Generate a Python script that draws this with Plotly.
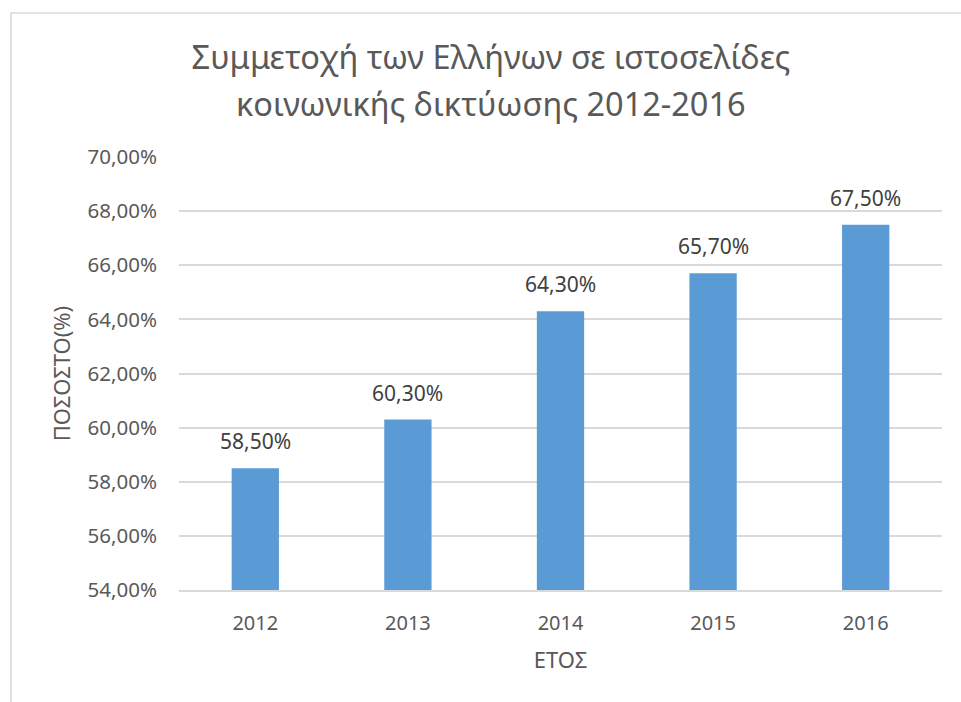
import plotly.graph_objects as go

years = ["2012", "2013", "2014", "2015", "2016"]
values = [0.585, 0.603, 0.643, 0.657, 0.675]
title_line1 = "Συμμετοχή των Ελλήνων σε ιστοσελίδες"
title_line2 = "κοινωνικής δικτύωσης 2012-2016"
x_title = "ΕΤΟΣ"
y_title = "ΠΟΣΟΣΤΟ(%)"

FONT = "Noto Sans"
TXT = "#595959"
W, H = 961, 702
L, R, T, B = 179, 19, 157, 112
pw = W - L - R
ph = H - T - B

fig = go.Figure()
fig.add_trace(go.Bar(
    x=years, y=values,
    marker=dict(color="#5b9bd5", line=dict(width=0)),
    hoverinfo="skip",
))

for i, yv in enumerate(values):
    fig.add_annotation(
        x=i, y=yv, text=f"{yv*100:.2f}%".replace(".", ","),
        showarrow=False, xanchor="center", yanchor="bottom", yshift=11,
        font=dict(family=FONT, size=21, color="#404040"),
    )

# second title line
fig.add_annotation(
    xref="paper", yref="paper",
    x=(491 - L) / pw, y=(H - B - 103) / ph,
    text=title_line2, showarrow=False, xanchor="center", yanchor="middle",
    font=dict(family=FONT, size=32.5, color=TXT),
)

fig.add_shape(
    type="rect", xref="paper", yref="paper",
    x0=(11 - L) / pw, x1=(975 - L) / pw,
    y0=(H - B - 720) / ph, y1=(H - B - 13) / ph,
    line=dict(color="#d9d9d9", width=1.5), fillcolor="rgba(0,0,0,0)",
    layer="below",
)

fig.update_layout(
    width=W, height=H,
    margin=dict(l=L, r=R, t=T, b=B, pad=0),
    paper_bgcolor="white", plot_bgcolor="white",
    separators=",.",
    bargap=0.69,
    showlegend=False,
    font=dict(family=FONT, color=TXT),
    title=dict(
        text=title_line1, x=491 / W, xanchor="center", xref="container",
        y=1 - 58 / H, yanchor="middle", yref="container",
        font=dict(family=FONT, size=32.5, color=TXT),
    ),
    xaxis=dict(
        type="category", range=[-0.5, 4.5],
        showgrid=False, showline=True, linecolor="#d9d9d9", linewidth=1.5,
        tickfont=dict(size=20, color=TXT), ticks="", ticklabelstandoff=14,
        title=dict(text=x_title, font=dict(size=22, color=TXT), standoff=18),
        fixedrange=True,
    ),
    yaxis=dict(
        range=[0.54, 0.70], dtick=0.02, tickformat=".2%",
        showgrid=True, gridcolor="#d9d9d9", gridwidth=1.5,
        zeroline=False, showline=False, ticks="",
        tickfont=dict(size=20.5, color=TXT), ticklabelstandoff=21,
        title=dict(text=y_title, font=dict(size=22, color=TXT), standoff=10),
        fixedrange=True,
    ),
)

fig.write_html("out.html")
